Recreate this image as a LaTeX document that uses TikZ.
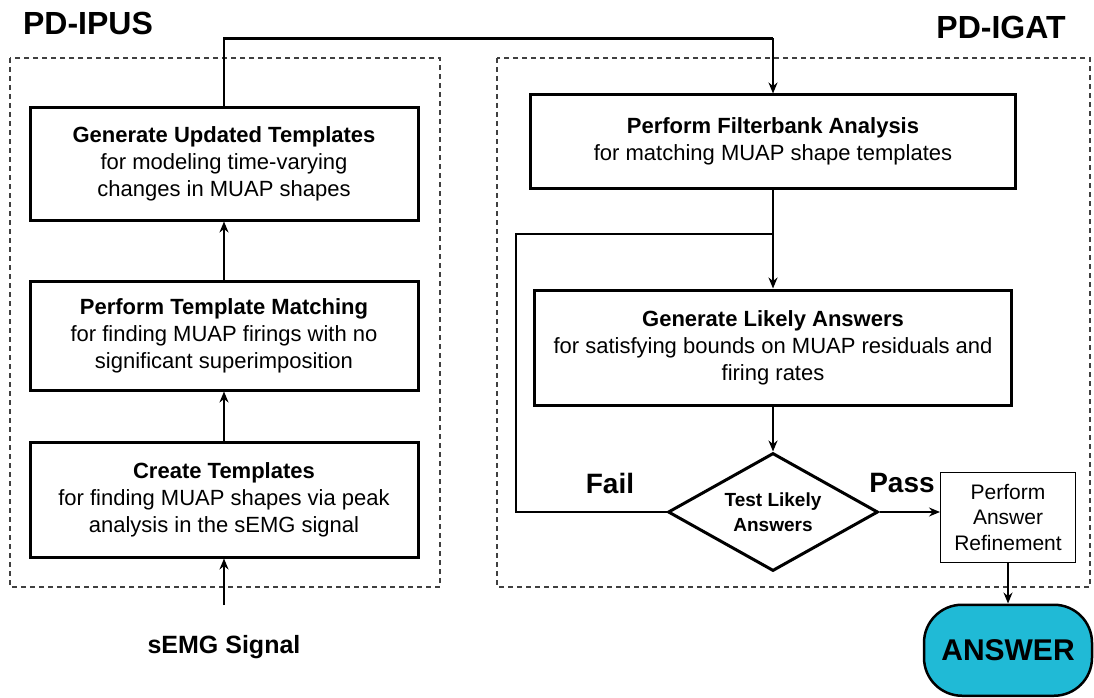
\documentclass[tikz,border=0pt]{standalone}
\usepackage{fontspec}
\setmainfont{Liberation Sans}
\usetikzlibrary{positioning,shapes.geometric,calc,arrows.meta}
\definecolor{answercyan}{RGB}{32,186,214}
\tikzset{block/.style={draw,line width=3pt,align=center,inner sep=0pt,font=\fontsize{22}{27}\selectfont},
         thinbox/.style={draw,line width=1pt,align=center,inner sep=0pt,font=\fontsize{21}{25.5}\selectfont},
         decision/.style={draw,diamond,line width=3pt,align=center,inner sep=0pt,font=\bfseries\fontsize{19}{25}\selectfont},
         stadium/.style={draw,line width=2.5pt,rounded corners=38pt,fill=answercyan,font=\bfseries\fontsize{30}{36}\selectfont},
         group/.style={draw=black!75,line width=1.2pt,dash pattern=on 5pt off 4pt},
         heading/.style={font=\bfseries\fontsize{32}{38}\selectfont},
         branch/.style={font=\bfseries\fontsize{28}{32}\selectfont},
         line/.style={line width=2pt}
}
\tikzstyle{arrow} = [line width=1.8pt,->,>={Stealth[length=11pt,width=9pt]}]

\begin{document}
\begin{tikzpicture}[x=1pt,y=-1pt]
\useasboundingbox (0,0) rectangle (1094,698);

\node[heading] (ipus) at (88,23) {PD-IPUS};
\node[heading] (igat) at (1001,27) {PD-IGAT};
\draw[group] (10,58) rectangle (440,587);
\draw[group] (497,58) rectangle (1090,587);

% PD-IPUS column
\node[block,minimum width=388pt,minimum height=112pt] (update) at (224,164) {\textbf{Generate Updated Templates}\\for modeling time-varying\\changes in MUAP shapes};
\node[block,minimum width=388pt,minimum height=109pt] (match) at (224,335.5) {\textbf{Perform Template Matching}\\for finding MUAP firings with no\\significant superimposition};
\node[block,minimum width=388pt,minimum height=115pt] (create) at (224,499.5) {\textbf{Create Templates}\\for finding MUAP shapes via peak\\analysis in the sEMG signal};
\node[font=\bfseries\fontsize{25}{30}\selectfont] (semg) at (224,647) {sEMG Signal};
\coordinate (sigin) at (224,605);

% PD-IGAT column
\node[block,minimum width=485pt,minimum height=93pt] (filt) at (773,141.5) {\textbf{Perform Filterbank Analysis}\\for matching MUAP shape templates};
\node[block,minimum width=477pt,minimum height=115pt] (likely) at (773,347.5) {\textbf{Generate Likely Answers}\\for satisfying bounds on MUAP residuals and\\firing rates};
\node[decision,minimum width=210pt,minimum height=118pt,shape aspect=1.7] (test) at (773,512) {Test Likely\\Answers};
\node[thinbox,minimum width=135pt,minimum height=90pt] (refine) at (1008,517) {Perform\\Answer\\Refinement};
\node[stadium,minimum width=168pt,minimum height=91pt,below=41pt of refine] (answer) {ANSWER};
\node[branch] (fail) at (610,483) {Fail};
\node[branch] (pass) at (902,483) {Pass};
\coordinate (split) at ($(filt.south)+(0,44)$);
\coordinate (bend) at ($(filt.north)+(0,-55)$);

\draw[arrow] (sigin) -- (create.south);
\draw[arrow] (create) -- (match);
\draw[arrow] (match) -- (update);
\draw[line width=2.5pt] (update.north) |- (bend);
\draw[arrow] (bend) -- (filt.north);
\draw[arrow] (filt.south) -- (likely.north);
\draw[line] (test.west) -- ++(-151,0) |- (split);
\draw[arrow] (likely.south) -- (test.north);
\draw[arrow,line width=1.4pt] (test.east) -- (test.east -| refine.west);
\draw[arrow,line width=1.4pt] (refine.south) -- (answer.north);

\end{tikzpicture}
\end{document}
